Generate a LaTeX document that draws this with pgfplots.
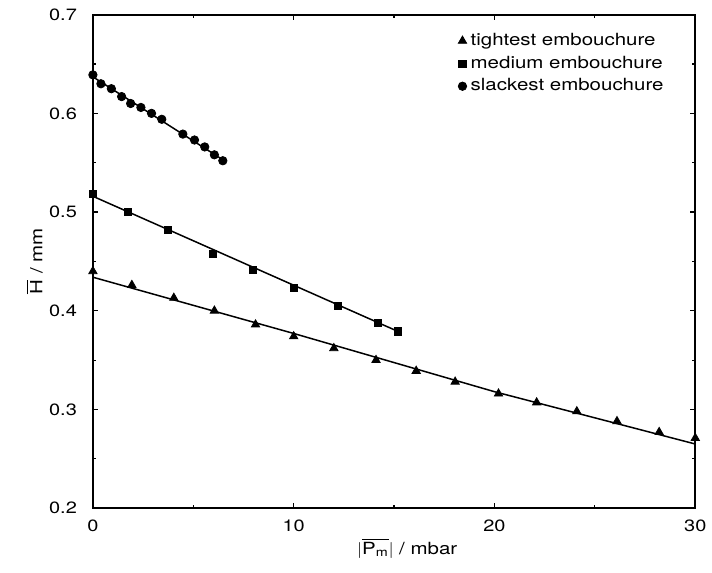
\documentclass[border=0pt]{standalone}
\usepackage{amsmath}
\usepackage{fontspec}
\setmainfont{TeX Gyre Heros}[FakeStretch=1.22]
\usepackage{pgfplots}
\pgfplotsset{compat=1.18}
\begin{document}
\fontsize{8.4}{10}\selectfont
\begin{tikzpicture}
\begin{axis}[
  width=301.5pt, height=247pt, scale only axis,
  xmin=0, xmax=30, ymin=0.2, ymax=0.7,
  clip=false,
  xtick={0,10,20,30}, minor xtick={5,15,25},
  ytick={0.2,0.3,0.4,0.5,0.6,0.7}, minor ytick={0.25,0.35,0.45,0.55,0.65},
  tick align=inside,
  major tick length=2.5pt, minor tick length=1.5pt,
  tick style={line width=0.6pt, black},
  axis line style={line width=0.9pt},
  tick label style={font=\fontsize{8.2}{10}\selectfont},
  /pgf/number format/assume math mode=true,
  yticklabel style={/pgf/number format/fixed, /pgf/number format/precision=1, /pgf/number format/fixed zerofill, xshift=-5pt},
  xticklabel style={yshift=-3pt},
  xlabel={$|\overline{\text{P}_{\text{m}}}|$ / mbar},
  ylabel={$\overline{\text{H}}$ / mm},
  xlabel style={at={(axis description cs:0.522,-0.081)}, anchor=center},
  ylabel style={at={(axis description cs:-0.0967,0.5)}, anchor=center},
  legend style={draw=none, fill=none, at={(rel axis cs:0.9645,0.973)}, anchor=north east,
    row sep=2.85pt, font=\fontsize{8.4}{10}\selectfont,
    nodes={inner xsep=2pt, inner ysep=0pt, text height=6.5pt, text depth=2pt}},
  legend cell align=left,
  legend image code/.code={\draw[#1] plot coordinates {(0.05cm,0cm)};},
]
% fitted lines
\addplot[black, line width=0.75pt, forget plot] coordinates {(0,0.434) (10,0.377) (20,0.318) (30,0.265)};
\addplot[black, line width=0.75pt, forget plot] coordinates {(0,0.516) (15.2,0.379)};
\addplot[black, line width=0.75pt, forget plot] coordinates {(0,0.637) (6.47,0.553)};
% data
\addplot[only marks, mark=triangle*, mark size=2.4pt, black] coordinates {
(0,0.440) (1.94,0.426) (4.03,0.413) (6.05,0.400) (8.1,0.386) (10.0,0.374)
(12.0,0.362) (14.1,0.350) (16.1,0.339) (18.04,0.328) (20.2,0.316) (22.1,0.307)
(24.1,0.298) (26.1,0.288) (28.2,0.277) (30.0,0.271)};
\addlegendentry{tightest embouchure}
\addplot[only marks, mark=square*, mark size=1.8pt, black] coordinates {
(0,0.518) (1.76,0.500) (3.75,0.482) (5.99,0.458) (7.98,0.441) (10.0,0.423)
(12.2,0.405) (14.2,0.388) (15.2,0.379)};
\addlegendentry{medium embouchure}
\addplot[only marks, mark=*, mark size=2.1pt, black] coordinates {
(0,0.639) (0.40,0.630) (0.92,0.625) (1.43,0.617) (1.88,0.610) (2.39,0.606)
(2.92,0.600) (3.43,0.594) (4.48,0.579) (5.06,0.573) (5.57,0.566) (6.05,0.558) (6.47,0.552)};
\addlegendentry{slackest embouchure}
\end{axis}
\path ([xshift=-46.5pt,yshift=-32pt]current axis.south west) circle (0pt);
\path ([xshift=8pt,yshift=7.35pt]current axis.north east) circle (0pt);
\end{tikzpicture}
\end{document}
